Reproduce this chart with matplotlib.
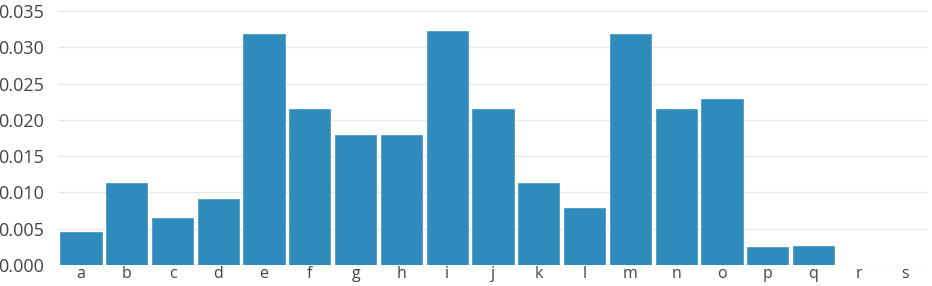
import matplotlib.pyplot as plt

# Dati
categories = list("abcdefghijklmnopqrs")
values = [0.00455, 0.0113, 0.0065, 0.0091, 0.0318, 0.0215, 0.0179, 0.0179,
          0.0322, 0.0215, 0.0113, 0.0079, 0.0318, 0.0215, 0.0229, 0.0025,
          0.0026, 0.0, 0.0]
yticks = [0.000, 0.005, 0.010, 0.015, 0.020, 0.025, 0.030, 0.035]

plt.rcParams['font.family'] = ['Open Sans', 'DejaVu Sans']

fig = plt.figure(figsize=(9.32, 2.86), dpi=100)
ax = fig.add_axes([58 / 932, 21 / 286, 870 / 932, 254 / 286])

x = range(len(categories))
ax.bar(x, values, width=0.9, color='#2e8bbb', edgecolor='#4a9cc8', linewidth=0.6, zorder=2)

ax.set_xlim(-0.5, len(categories) - 0.5)
ax.set_ylim(0, 0.035)
ax.set_yticks(yticks)
ax.set_yticklabels([f"{t:.3f}" for t in yticks])
ax.set_xticks(list(x))
ax.set_xticklabels(categories)

ax.grid(axis='y', color='#e8e8e8', linewidth=1, zorder=0)
for s in ax.spines.values():
    s.set_visible(False)
ax.tick_params(length=0, colors='#444444')
ax.tick_params(axis='y', labelsize=13, pad=10)
ax.tick_params(axis='x', labelsize=11.5, pad=1)

fig.savefig('out.png', dpi=100)
